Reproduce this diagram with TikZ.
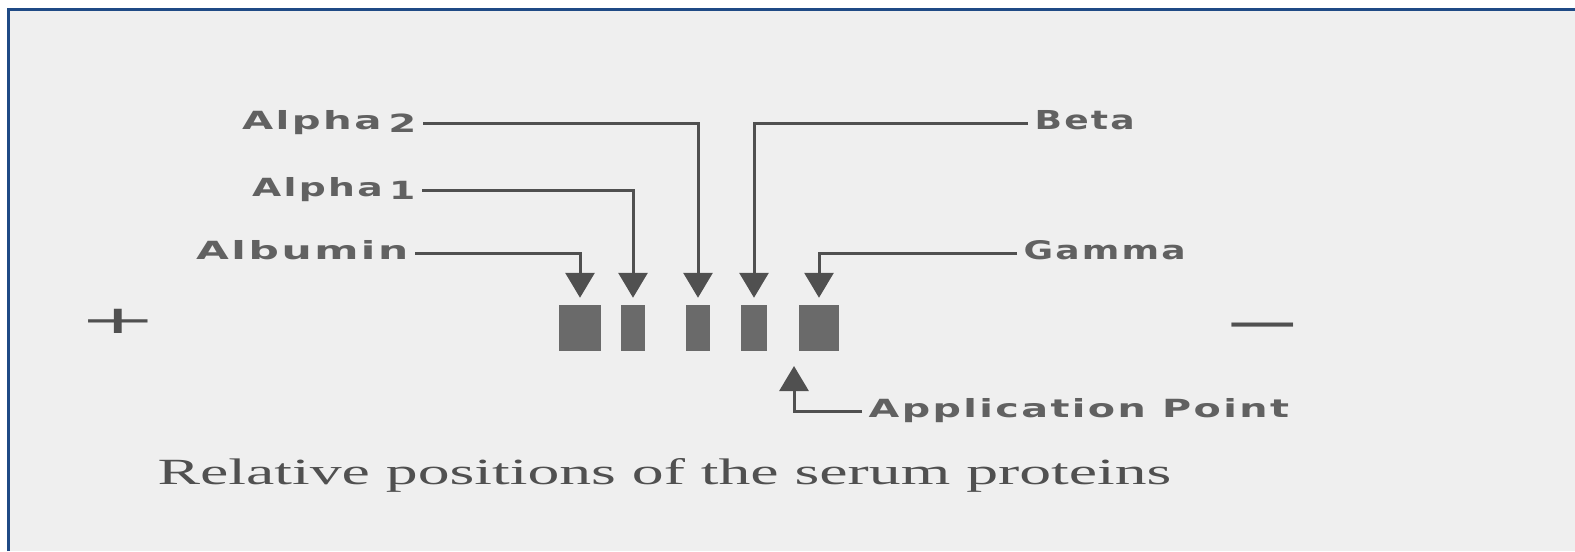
\documentclass[tikz,border=0pt]{standalone}
\usepackage{fontspec}
\usepackage{graphicx}
\usetikzlibrary{arrows.meta}
\newfontfamily\lblfont[LetterSpace=6]{DejaVu Sans Bold}
\newfontfamily\signfont{DejaVu Sans}
\newfontfamily\capfont{Liberation Serif}
\definecolor{frameblue}{HTML}{1F4A85}
\definecolor{paper}{HTML}{EFEFEF}
\definecolor{ink}{HTML}{505050}
\definecolor{bandgray}{HTML}{6A6A6A}
\newcommand{\fitlbl}[2]{\resizebox{#1}{0.19cm}{\lblfont #2}}

\begin{document}
\begin{tikzpicture}[x=0.01cm, y=-0.01cm]
	\tikzstyle{lbl} = [inner xsep=0.06cm, inner ysep=0, text=ink!90, text height=0.19cm, text depth=0.07cm]
	\tikzstyle{lead} = [draw=ink, line width=0.03cm, -{Triangle[width=0.29cm, length=0.25cm]}, shorten >=0.07cm]
	\tikzstyle{band} = [fill=bandgray, inner sep=0, minimum height=0.45cm]
	\tikzstyle{sign} = [inner sep=0, text=ink]
	\useasboundingbox (0,0) rectangle (1575,551);
	\fill[white] (0,0) rectangle (1575,551);
	\fill[paper] (8,9) rectangle (1575,551);
	\draw[frameblue, line width=0.03cm] (8.5,551) -- (8.5,9.5) -- (1575,9.5);
		\node[band, minimum width=0.42cm] (balb) at (580,328) {};
		\node[band, minimum width=0.23cm] (ba1)  at (633,328) {};
		\node[band, minimum width=0.24cm] (ba2)  at (698,328) {};
		\node[band, minimum width=0.26cm] (bbet) at (754,328) {};
		\node[band, minimum width=0.40cm] (bgam) at (819,328) {};
		\node[lbl, anchor=east] (a2)  at (423,123) {\fitlbl{1.74cm}{Alpha\,\raisebox{-0.15em}{2}}};
		\node[lbl, anchor=east] (a1)  at (422,190) {\fitlbl{1.63cm}{Alpha\,\raisebox{-0.15em}{1}}};
		\node[lbl, anchor=east] (alb) at (415,253) {\fitlbl{2.12cm}{Albumin}};
		\node[lbl, anchor=west] (bet) at (1028,123) {\fitlbl{1.0cm}{Beta}};
		\node[lbl, anchor=west] (gam) at (1017,253) {\fitlbl{1.62cm}{Gamma}};
		\node[lbl, anchor=west] (app) at (862,411) {\fitlbl{4.2cm}{Application Point}};
		\coordinate (apptip) at (794,366);
		\node[sign] (plus)  at (118,321) {\scalebox{2.7}[1.1]{\signfont +}};
		\node[sign] (minus) at (1263,332) {\scalebox{2.8}[1.4]{\signfont −}};
		\node[anchor=base west, inner sep=0, text=ink] (cap) at (157,484) {\resizebox{10.13cm}{0.26cm}{\capfont Relative positions of the serum proteins}};
	\draw[lead] (alb.east) -| (balb.north);
	\draw[lead] (a1.east) -| (ba1.north);
	\draw[lead] (a2.east) -| (ba2.north);
	\draw[lead] (bet.west) -| (bbet.north);
	\draw[lead] (gam.west) -| (bgam.north);
	\draw[lead, shorten >=0cm] (app.west) -| (apptip);
\end{tikzpicture}
\end{document}
